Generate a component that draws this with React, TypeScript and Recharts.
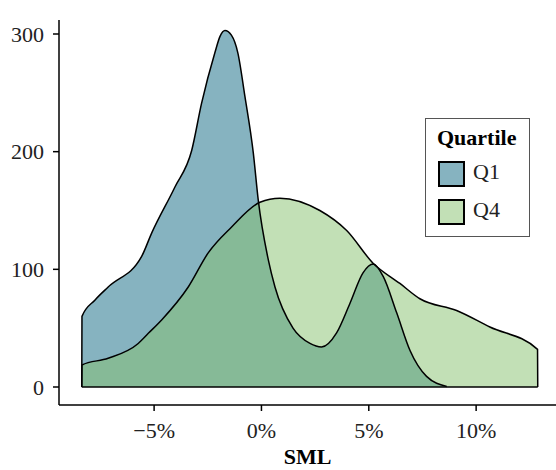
import React from 'react'
import { ComposedChart, Area, Line, XAxis, YAxis, ReferenceLine } from 'recharts'

// density of SML by quartile (x in %)
const q1X = [-8.37, -8.36, -7.75, -7.14, -5.58, -5.11, -4.03, -3.25, -2.79, -2.17, -1.93, -1.70, -1.40, -1.10, -0.77, -0.38, -0.15, 0.32, 0.63, 1.47, 2.26, 2.80, 3.50, 4.12, 4.73, 5.21, 5.67, 6.30, 6.92, 7.69, 8.63]
const q1Y = [0, 60, 74, 85, 111, 131, 170, 201, 241, 284, 298, 303, 299, 284, 247, 199, 159, 108, 85, 50, 37, 34, 46, 71, 97, 104.5, 94, 63, 31, 9, 0.5]

const q4X = [-8.37, -8.36, -7.14, -5.74, -5.27, -4.65, -3.41, -2.48, -1.39, -0.07, 0.86, 2.72, 3.97, 5.21, 6.45, 7.38, 9.09, 10.64, 12.86, 12.87]
const q4Y = [0, 18.7, 24.4, 37, 45.6, 57, 85, 114, 136, 157, 160.5, 150, 133, 105, 88, 75, 65, 51, 32, 0]

const xTicks = [-5, 0, 5, 10]
const yTicks = [0, 100, 200, 300]
const quartiles = ['Q1', 'Q4']
const fills = ['#86B3C0', '#85C16D']

// merge both series on one numeric x
const table = (() => {
  const rows: any[] = []
  q1X.forEach((x, i) => rows.push({ x, q1: q1Y[i] }))
  q4X.forEach((x, i) => rows.push({ x, q4: q4Y[i] }))
  return rows.sort((a, b) => a.x - b.x)
})()

const font = '"Liberation Serif", "Times New Roman", serif'
const fmt = (v: number) => (v < 0 ? `\u2212${Math.abs(v)}%` : `${v}%`)

const App = () => {
  const tick = { fontFamily: font, fontSize: 22, fill: '#222' }
  return (
    <div style={{ position: 'absolute', left: 0, top: 0, width: 556, height: 470 }}>
      <ComposedChart width={556} height={470} data={table} margin={{ top: 20, right: 0, bottom: 0, left: 0 }}>
        <XAxis
          type="number"
          dataKey="x"
          domain={[-9.43, 13.72]}
          allowDataOverflow
          ticks={xTicks}
          tickFormatter={fmt}
          height={65}
          tickSize={6}
          tickMargin={11}
          tick={tick}
          axisLine={{ stroke: '#000', strokeWidth: 1.5 }}
          tickLine={{ stroke: '#000', strokeWidth: 1.5 }}
          label={{ value: 'SML', position: 'insideBottom', offset: 6, style: { fontFamily: font, fontSize: 22, fontWeight: 700, fill: '#000' } }}
        />
        <YAxis
          type="number"
          domain={[-15.3, 311.9]}
          allowDataOverflow
          ticks={yTicks}
          width={59}
          tickSize={6}
          tickMargin={9}
          tick={tick}
          axisLine={{ stroke: '#000', strokeWidth: 1.5 }}
          tickLine={{ stroke: '#000', strokeWidth: 1.5 }}
        />
        <Area type="monotone" dataKey="q1" connectNulls fill={fills[0]} fillOpacity={1} stroke="none" isAnimationActive={false} />
        <Area type="monotone" dataKey="q4" connectNulls fill={fills[1]} fillOpacity={0.5} stroke="none" isAnimationActive={false} />
        <ReferenceLine segment={[{ x: q4X[0], y: 0 }, { x: q4X[q4X.length - 1], y: 0 }]} stroke="#000" strokeWidth={1.5} />
        <Line type="monotone" dataKey="q1" connectNulls stroke="#000" strokeWidth={1.5} dot={false} activeDot={false} isAnimationActive={false} />
        <Line type="monotone" dataKey="q4" connectNulls stroke="#000" strokeWidth={1.5} dot={false} activeDot={false} isAnimationActive={false} />
      </ComposedChart>
      <div
        style={{
          position: 'absolute',
          left: 425,
          top: 118,
          width: 105,
          height: 119,
          border: '1px solid #555',
          background: '#fff',
          fontFamily: font,
          boxSizing: 'border-box',
        }}
      >
        <div style={{ position: 'absolute', left: 11, top: 6, fontSize: 22, fontWeight: 700, color: '#000' }}>Quartile</div>
        {quartiles.map((q, i) => (
          <div key={q} style={{ position: 'absolute', left: 12, top: 42 + i * 38 }}>
            <div
              style={{
                position: 'absolute',
                left: 0,
                top: 0,
                width: 27,
                height: 26,
                boxSizing: 'border-box',
                border: '2px solid #000',
                background: i === 0 ? fills[0] : '#C2E0B6',
              }}
            />
            <div style={{ position: 'absolute', left: 35, top: -2, fontSize: 22, color: '#222' }}>{q}</div>
          </div>
        ))}
      </div>
    </div>
  )
}

export default App
